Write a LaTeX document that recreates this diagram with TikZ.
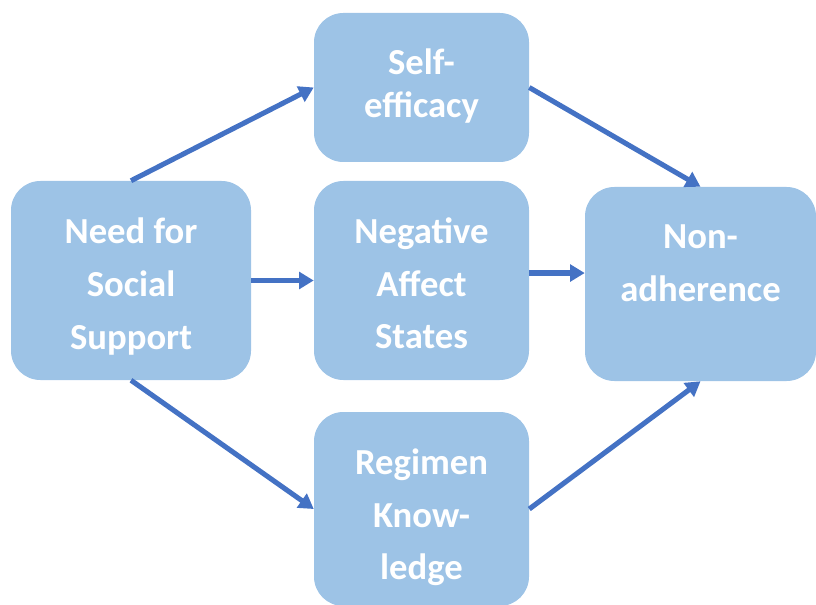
\documentclass[tikz,border=0pt]{standalone}
\usepackage{fontspec}
\setmainfont{Carlito}
\usetikzlibrary{arrows.meta}
\definecolor{boxfill}{HTML}{9DC3E6}
\definecolor{arrowblue}{HTML}{4472C4}
\begin{document}
\begin{tikzpicture}[x=0.75pt,y=-0.75pt,
  box/.style={draw=none,fill=boxfill,rounded corners=22pt,inner sep=0pt},
  txt/.style={text=white,align=center,inner sep=0pt,font=\fontsize{27.5pt}{39.4pt}\selectfont\bfseries},
  txtsm/.style={txt,font=\fontsize{27.5pt}{32pt}\selectfont\bfseries},
  arr/.style={draw=arrowblue,line width=3.8pt,-{Triangle[length=11pt,width=12.5pt]}}]
\useasboundingbox (0,0) rectangle (816,605);
% boxes
\node[box,minimum width=180pt,minimum height=149.25pt] (need) at (131,280.5) {};
\node[box,minimum width=161.25pt,minimum height=111.75pt] (self) at (421.5,87.5) {};
\node[box,minimum width=161.25pt,minimum height=149.25pt] (neg) at (421.5,280.5) {};
\node[box,minimum width=161.25pt,minimum height=145.5pt] (reg) at (421.5,509) {};
\node[box,minimum width=173.25pt,minimum height=145.5pt] (non) at (700.5,284) {};
% texts
\node[txt] (need-t) at ([yshift=-4.5pt]need.center) {Need for\\Social\\Support};
\node[txtsm] (self-t) at ([yshift=1pt]self.center) {Self-\\efficacy};
\node[txt] (neg-t) at ([yshift=-2.2pt]neg.center) {Negative\\Affect\\States};
\node[txt] (reg-t) at ([yshift=-6.5pt]reg.center) {Regimen\\Know-\\ledge};
\node[txt] (non-t) at ([yshift=15.5pt]non.center) {Non-\\adherence};
% arrows
\draw[arr] (need.north) -- (self.west);
\draw[arr] (need.east) -- (neg.west);
\draw[arr] (need.south) -- (reg.west);
\draw[arr] (self.east) -- (non.north);
\draw[arr] ([yshift=5.6pt]neg.east) -- ([yshift=5.6pt]neg.east -| non.west);
\draw[arr] (reg.east) -- (non.south);
\end{tikzpicture}
\end{document}
